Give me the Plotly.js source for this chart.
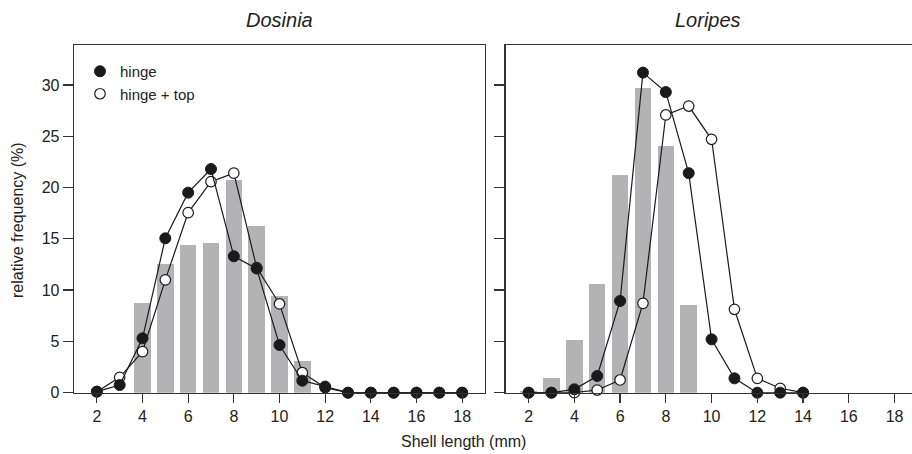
<!DOCTYPE html>
<html>
<head>
<meta charset="utf-8">
<script src="https://cdn.plot.ly/plotly-3.0.1.min.js"></script>
<style>html,body{margin:0;padding:0;background:#fff;}#chart{width:912px;height:454px;}</style>
</head>
<body>
<div id="chart"></div>
<script>
// Shell length classes (mm)
const lengthsDosinia = [2,3,4,5,6,7,8,9,10,11,12,13,14,15,16,17,18];
const barsDosinia    = [0,0,8.7,12.5,14.4,14.6,20.7,16.2,9.45,3.1,0,0,0,0,0,0,0];
const hingeDosinia   = [0.1,0.75,5.3,15.05,19.5,21.8,13.3,12.1,4.65,1.17,0.6,0,0,0,0,0,0];
const hingeTopDosinia= [0.1,1.5,4.0,11.0,17.55,20.57,21.4,12.2,8.65,1.95,0.5,0,0,0,0,0,0];

const lengthsLoripes = [2,3,4,5,6,7,8,9,10,11,12,13,14];
const barsLoripes    = [0.2,1.46,5.1,10.6,21.2,29.7,24.05,8.55,0,0,0,0,0];
const hingeLoripes   = [0,0,0.33,1.63,8.94,31.2,29.3,21.4,5.2,1.4,0,0,0];
const hingeTopLoripes= [0,0,0,0.26,1.24,8.71,27.07,27.94,24.7,8.13,1.4,0.43,0];

const yTicks = [0,5,10,15,20,25,30];
const xTicks = [2,4,6,8,10,12,14,16,18];

const barColor = '#b3b3b5';
const ink = '#1a1a1a';
const font = 'Liberation Sans, Arial, sans-serif';

function panel(xs, bars, hinge, hingeTop, xa, ya, legend) {
  return [
    {type:'bar', x:xs, y:bars, xaxis:xa, yaxis:ya, width:0.72,
     marker:{color:barColor, line:{width:0}}, showlegend:false, hoverinfo:'skip'},
    {type:'scatter', mode:'lines', x:xs, y:hingeTop, xaxis:xa, yaxis:ya,
     line:{color:ink, width:1.2}, showlegend:false, cliponaxis:false},
    {type:'scatter', mode:'markers', x:xs, y:hingeTop, xaxis:xa, yaxis:ya, name:'hinge + top',
     marker:{symbol:'circle', size:10.5, color:'#ffffff', line:{color:ink, width:1.2}},
     showlegend:legend, legendrank:2, cliponaxis:false},
    {type:'scatter', mode:'lines', x:xs, y:hinge, xaxis:xa, yaxis:ya,
     line:{color:ink, width:1.2}, showlegend:false, cliponaxis:false},
    {type:'scatter', mode:'markers', x:xs, y:hinge, xaxis:xa, yaxis:ya, name:'hinge',
     marker:{symbol:'circle', size:11, color:ink, line:{color:ink, width:1}},
     showlegend:legend, legendrank:1, cliponaxis:false}
  ];
}

const data = [
  ...panel(lengthsDosinia, barsDosinia, hingeDosinia, hingeTopDosinia, 'x', 'y', true),
  ...panel(lengthsLoripes, barsLoripes, hingeLoripes, hingeTopLoripes, 'x2', 'y2', false)
];

const W = 912, H = 454;
const yDom = [(H-392.7)/H, (H-45)/H];
const axisCommon = {
  showline:true, linecolor:'#333', linewidth:1.3, ticks:'outside', tickcolor:'#333',
  tickwidth:1.3, showgrid:false, zeroline:false, automargin:false,
  tickfont:{family:font, size:16, color:'#222'}
};

const layout = {
  width:W, height:H,
  margin:{l:0, r:0, t:0, b:0},
  paper_bgcolor:'#fff', plot_bgcolor:'#fff',
  bargap:0,
  font:{family:font, color:'#222'},
  xaxis: Object.assign({}, axisCommon, {domain:[74/W, 485/W], range:[1,19], tickvals:xTicks, ticklen:9, mirror:true, anchor:'y'}),
  yaxis: Object.assign({}, axisCommon, {domain:yDom, range:[0,33.89], tickvals:yTicks, ticklen:10, mirror:true, anchor:'x'}),
  xaxis2: Object.assign({}, axisCommon, {domain:[505.7/W, 1], range:[1, 1+(W-505.7)/22.875], tickvals:xTicks, ticklen:9, mirror:true, anchor:'y2'}),
  yaxis2: Object.assign({}, axisCommon, {domain:yDom, range:[0,33.89], tickvals:yTicks, ticklen:10, showticklabels:false, mirror:false, anchor:'x2'}),
  showlegend:true,
  legend:{x:80/W, y:1-55/H, xanchor:'left', yanchor:'top', bgcolor:'rgba(0,0,0,0)',
          font:{family:font, size:15, color:'#222'}, tracegroupgap:0},
  annotations:[
    {text:'<i>Dosinia</i>', xref:'paper', yref:'paper', x:279.5/W, y:1-20/H, showarrow:false,
     xanchor:'center', yanchor:'middle', font:{family:font, size:20, color:'#222'}},
    {text:'<i>Loripes</i>', xref:'paper', yref:'paper', x:708/W, y:1-20/H, showarrow:false,
     xanchor:'center', yanchor:'middle', font:{family:font, size:20, color:'#222'}},
    {text:'Shell length (mm)', xref:'paper', yref:'paper', x:463/W, y:1-441/H, showarrow:false,
     xanchor:'center', yanchor:'middle', font:{family:font, size:16, color:'#222'}},
    {text:'relative frequency (%)', xref:'paper', yref:'paper', x:17/W, y:1-220/H, showarrow:false,
     textangle:-90, xanchor:'center', yanchor:'middle', font:{family:font, size:16, color:'#222'}}
  ]
};

Plotly.newPlot('chart', data, layout, {displayModeBar:false, staticPlot:true});
</script>
</body>
</html>
